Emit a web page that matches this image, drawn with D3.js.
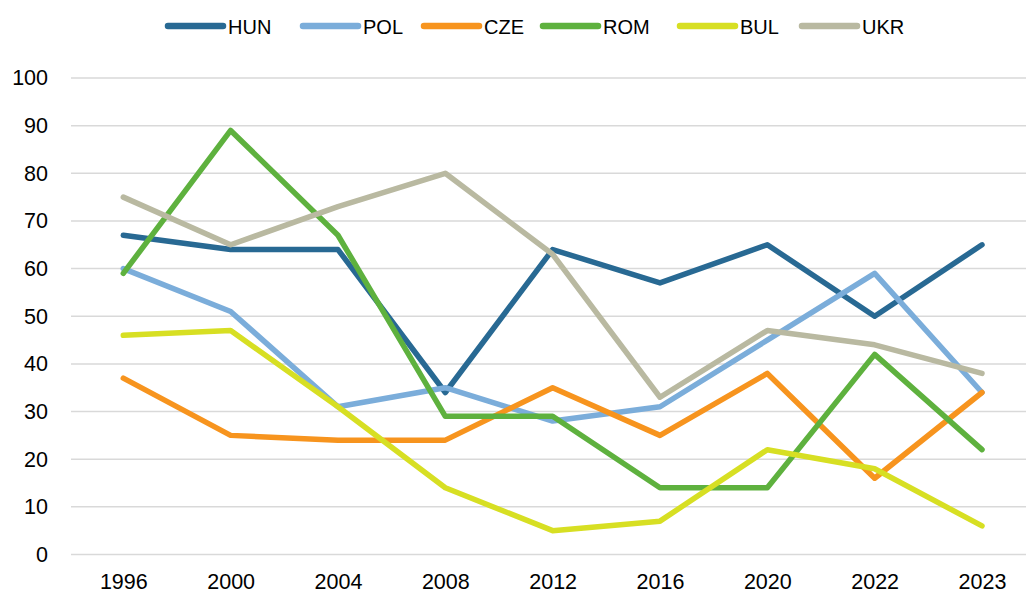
<!DOCTYPE html>
<html>
<head>
<meta charset="utf-8">
<script src="https://cdn.jsdelivr.net/npm/d3@7"></script>
<style>
  body { margin: 0; background: #fff; }
  svg { display: block; }
</style>
</head>
<body>
<div id="chart"></div>
<script>
// Data
const years = ["1996", "2000", "2004", "2008", "2012", "2016", "2020", "2022", "2023"];
const yTicks = [0, 10, 20, 30, 40, 50, 60, 70, 80, 90, 100];
const seriesNames = ["HUN", "POL", "CZE", "ROM", "BUL", "UKR"];
const hun = [67, 64, 64, 34, 64, 57, 65, 50, 65];
const pol = [60, 51, 31, 35, 28, 31, 45, 59, 34];
const cze = [37, 25, 24, 24, 35, 25, 38, 16, 34];
const rom = [59, 89, 67, 29, 29, 14, 14, 42, 22];
const bul = [46, 47, 31, 14, 5, 7, 22, 18, 6];
const ukr = [75, 65, 73, 80, 63, 33, 47, 44, 38];
const seriesValues = [hun, pol, cze, rom, bul, ukr];
const colors = ["#286993", "#7badda", "#f7941e", "#5eb13e", "#d7df23", "#b9b9a1"];

const width = 1026, height = 594;

const svg = d3.select("#chart")
  .append("svg")
  .attr("width", width)
  .attr("height", height);

// Scales
const x = d3.scalePoint().domain(years).range([123.3, 982]);
const y = d3.scaleLinear().domain([0, 100]).range([554.5, 78]);

// Gridlines
svg.append("g")
  .selectAll("line")
  .data(yTicks)
  .join("line")
  .attr("x1", 71)
  .attr("x2", width)
  .attr("y1", d => y(d))
  .attr("y2", d => y(d))
  .attr("stroke", "#d9d9d9")
  .attr("stroke-width", 1.5);

// Y axis labels
const yAxis = svg.append("g")
  .attr("transform", "translate(48,0)")
  .call(d3.axisLeft(y).tickValues(yTicks).tickSize(0).tickPadding(0));
yAxis.select(".domain").remove();
yAxis.selectAll("text")
  .attr("font-family", "'Liberation Sans', Arial, sans-serif")
  .attr("font-size", 21.5)
  .attr("fill", "#000");

// X axis labels
const xAxis = svg.append("g")
  .attr("transform", "translate(0,574)")
  .call(d3.axisBottom(x).tickSize(0).tickPadding(0));
xAxis.select(".domain").remove();
xAxis.selectAll("text")
  .attr("font-family", "'Liberation Sans', Arial, sans-serif")
  .attr("font-size", 21.5)
  .attr("fill", "#000");

// Lines
const line = d3.line()
  .x((d, i) => x(years[i]))
  .y(d => y(d));

svg.append("g")
  .selectAll("path")
  .data(seriesValues)
  .join("path")
  .attr("d", d => line(d))
  .attr("fill", "none")
  .attr("stroke", (d, i) => colors[i])
  .attr("stroke-width", 5.5)
  .attr("stroke-linecap", "round")
  .attr("stroke-linejoin", "round");

// Legend
const legendX = [168, 303, 424, 543, 680, 802];
const legend = svg.append("g")
  .selectAll("g")
  .data(seriesNames)
  .join("g")
  .attr("transform", (d, i) => `translate(${legendX[i]},26)`);

legend.append("line")
  .attr("x1", 0)
  .attr("x2", 55)
  .attr("stroke", (d, i) => colors[i])
  .attr("stroke-width", 6.5)
  .attr("stroke-linecap", "round");

legend.append("text")
  .attr("x", 60)
  .attr("y", 7.5)
  .attr("font-family", "'Liberation Sans', Arial, sans-serif")
  .attr("font-size", 20)
  .attr("fill", "#000")
  .text(d => d);
</script>
</body>
</html>
